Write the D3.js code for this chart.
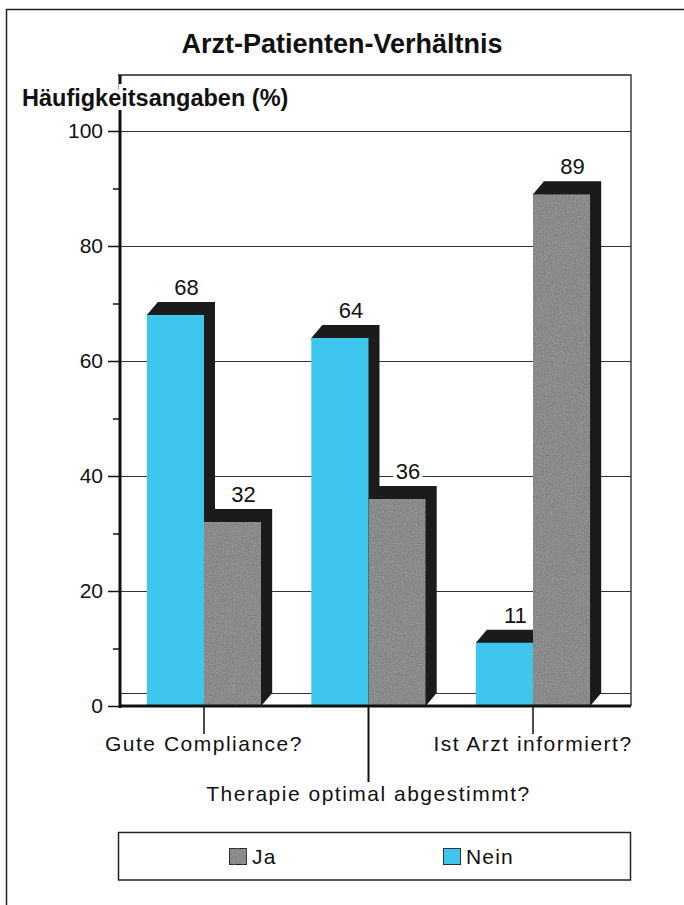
<!DOCTYPE html>
<html>
<head>
<meta charset="utf-8">
<script src="https://cdn.jsdelivr.net/npm/d3@7"></script>
<style>
  html, body { margin: 0; padding: 0; background: #fff; }
  svg { display: block; }
  text { font-family: "Liberation Sans", Arial, Helvetica, sans-serif; fill: #111; }
</style>
</head>
<body>
<script>
// Survey answers on the doctor–patient relationship (percent)
const categories = ["Gute Compliance?", "Therapie optimal abgestimmt?", "Ist Arzt informiert?"];
const seriesNames = ["Nein", "Ja"];
const neinValues = [68, 64, 11];
const jaValues = [32, 36, 89];
const majorTicks = [0, 20, 40, 60, 80, 100];
const minorTicks = [10, 30, 50, 70, 90];

const colors = { Nein: "#3ec6ee", Ja: "#8b8b8b" };
const shadowColor = "#1b1b1b";

const W = 684, H = 905;
const svg = d3.select("body").append("svg").attr("width", W).attr("height", H);

// Grain used on the grey bars
const defs = svg.append("defs");
const grain = defs.append("filter").attr("id", "grain").attr("x", 0).attr("y", 0).attr("width", 1).attr("height", 1);
grain.append("feTurbulence").attr("type", "fractalNoise").attr("baseFrequency", 0.9).attr("numOctaves", 2).attr("seed", 3).attr("result", "noise");
grain.append("feColorMatrix").attr("in", "noise").attr("type", "matrix")
  .attr("values", "0.33 0.33 0.33 0 0  0.33 0.33 0.33 0 0  0.33 0.33 0.33 0 0  0 0 0 0 1").attr("result", "gray");
grain.append("feComposite").attr("in", "SourceGraphic").attr("in2", "gray").attr("operator", "arithmetic")
  .attr("k1", 0).attr("k2", 1).attr("k3", 0.32).attr("k4", -0.16).attr("result", "mix");
grain.append("feComposite").attr("in", "mix").attr("in2", "SourceGraphic").attr("operator", "in");

// Page frame
svg.append("path").attr("d", "M6.5,905 V9.5 H684").attr("fill", "none").attr("stroke", "#222").attr("stroke-width", 1.5);

// Title
svg.append("text").attr("x", 342).attr("y", 53).attr("text-anchor", "middle")
  .style("font-size", "27px").style("font-weight", "bold").text("Arzt-Patienten-Verhältnis");

// Plot geometry
const plotLeft = 120, plotRight = 631, plotTop = 75, plotBase = 706;
const depthX = 11, depthY = 13;

const y = d3.scaleLinear().domain([0, 100]).range([plotBase, 131]);
const x = d3.scaleBand().domain(categories).range([121, 616]).paddingInner(0.305).paddingOuter(0.157);
const xs = d3.scaleBand().domain(seriesNames).range([0, x.bandwidth()]);

const plot = svg.append("g");

// Back frame of the plot area
plot.append("path").attr("d", `M${plotLeft - 2},${plotTop} H${plotRight} V${plotBase}`)
  .attr("fill", "none").attr("stroke", "#222").attr("stroke-width", 1.3);

// Gridlines
plot.append("g").selectAll("line").data(majorTicks.filter(d => d > 0)).join("line")
  .attr("x1", plotLeft).attr("x2", plotRight)
  .attr("y1", d => Math.round(y(d)) + 0.5).attr("y2", d => Math.round(y(d)) + 0.5)
  .attr("stroke", "#333").attr("stroke-width", 1.1);

// Floor back edge
plot.append("line").attr("x1", plotLeft).attr("x2", plotRight)
  .attr("y1", plotBase - depthY + 0.5).attr("y2", plotBase - depthY + 0.5)
  .attr("stroke", "#333").attr("stroke-width", 1.1);

// Bars with extruded shadow
const rows = [];
categories.forEach((c, i) => {
  rows.push({ cat: c, series: "Nein", value: neinValues[i] });
  rows.push({ cat: c, series: "Ja", value: jaValues[i] });
});

const barG = plot.append("g");
rows.forEach(d => {
  const x0 = x(d.cat) + xs(d.series);
  const x1 = x0 + xs.bandwidth();
  const yT = y(d.value);
  const g = barG.append("g");
  g.append("path")
    .attr("d", `M${x0},${yT} L${x0 + depthX},${yT - depthY} L${x1 + depthX},${yT - depthY} L${x1 + depthX},${plotBase - depthY} L${x1},${plotBase} Z`)
    .attr("fill", shadowColor);
  g.append("rect").attr("x", x0).attr("y", yT).attr("width", x1 - x0).attr("height", plotBase - yT)
    .attr("fill", colors[d.series])
    .attr("filter", d.series === "Ja" ? "url(#grain)" : null);
});

// Value labels above each bar
plot.append("g").selectAll("text").data(rows).join("text")
  .attr("x", d => x(d.cat) + xs(d.series) + xs.bandwidth() / 2 + depthX)
  .attr("y", d => y(d.value) - depthY - 7)
  .attr("text-anchor", "middle")
  .style("font-size", "22px")
  .attr("stroke", "#fff").attr("stroke-width", 7).attr("paint-order", "stroke")
  .text(d => d.value);

// Y axis: major and minor ticks
const axisMajor = d3.axisLeft(y).tickValues(majorTicks).tickSize(12).tickPadding(5).tickFormat(d3.format("d"));
const axisMinor = d3.axisLeft(y).tickValues(minorTicks).tickSize(7).tickFormat("");
const ga = svg.append("g").attr("transform", `translate(${plotLeft},0)`).call(axisMajor);
const gm = svg.append("g").attr("transform", `translate(${plotLeft},0)`).call(axisMinor);
[ga, gm].forEach(g => {
  g.select(".domain").remove();
  g.selectAll(".tick line").attr("stroke", "#111").attr("stroke-width", 1.5);
});
ga.selectAll(".tick text").style("font-size", "21px").attr("fill", "#111").style("font-family", "'Liberation Sans', Arial, sans-serif");
svg.append("line").attr("x1", plotLeft).attr("x2", plotLeft).attr("y1", plotTop).attr("y2", plotBase + 2)
  .attr("stroke", "#111").attr("stroke-width", 3);

// Base line
svg.append("line").attr("x1", plotLeft - 1).attr("x2", plotRight).attr("y1", plotBase).attr("y2", plotBase)
  .attr("stroke", "#111").attr("stroke-width", 3);

// Y axis title (knocks out the axis behind it)
svg.append("text").attr("x", 22).attr("y", 106)
  .style("font-size", "23.5px").style("font-weight", "bold")
  .attr("stroke", "#fff").attr("stroke-width", 8).attr("paint-order", "stroke")
  .text("Häufigkeitsangaben (%)");

// Category labels with leader lines
const labelDrop = [0, 1, 0];
categories.forEach((c, i) => {
  const cx = x(c) + x.bandwidth() / 2;
  const lineEnd = labelDrop[i] ? 782 : 734;
  svg.append("line").attr("x1", cx).attr("x2", cx).attr("y1", plotBase).attr("y2", lineEnd)
    .attr("stroke", "#111").attr("stroke-width", labelDrop[i] ? 2 : 1.5);
  svg.append("text").attr("x", cx).attr("y", labelDrop[i] ? 801 : 751)
    .attr("text-anchor", "middle").style("font-size", "21px").style("letter-spacing", "1.5px")
    .text(c);
});

// Legend
const legend = svg.append("g");
legend.append("rect").attr("x", 118.5).attr("y", 832.5).attr("width", 512).attr("height", 47.5)
  .attr("fill", "none").attr("stroke", "#222").attr("stroke-width", 1.5);
const legendItems = [
  { name: "Ja", x: 229 },
  { name: "Nein", x: 443 }
];
legendItems.forEach(it => {
  legend.append("rect").attr("x", it.x + 0.5).attr("y", 848.5).attr("width", 17).attr("height", 16)
    .attr("fill", colors[it.name]).attr("stroke", "#333").attr("stroke-width", 1)
    .attr("filter", it.name === "Ja" ? "url(#grain)" : null);
  legend.append("text").attr("x", it.x + 23).attr("y", 864)
    .style("font-size", "21px").style("letter-spacing", "1.2px").text(it.name);
});
</script>
</body>
</html>
